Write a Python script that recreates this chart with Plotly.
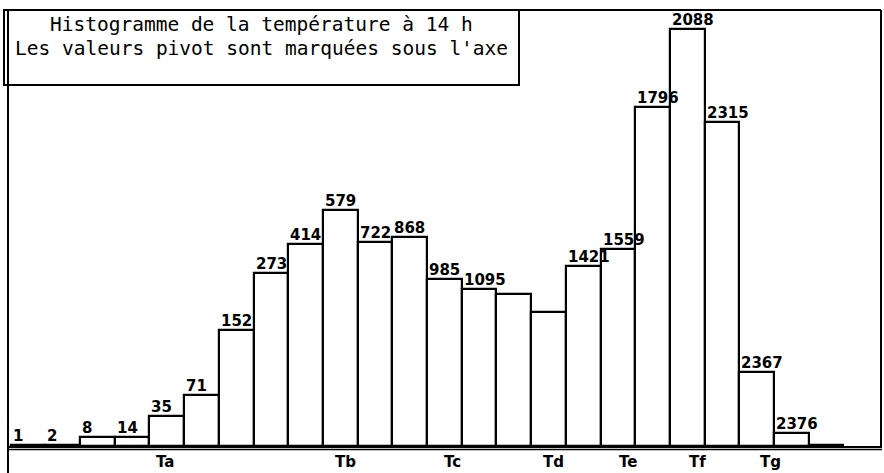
import plotly.graph_objects as go

# Data
bar_index = list(range(24))
counts = [1, 1, 6, 6, 21, 36, 81, 121, 141, 165, 143, 146, 117, 110,
          106, 94, 126, 138, 237, 292, 227, 52, 9, 1]
cum_labels = ["1", "2", "8", "14", "35", "71", "152", "273", "414", "579",
              "722", "868", "985", "1095", "", "", "1421", "1559", "1796",
              "2088", "2315", "2367", "2376", ""]
pivot_pos = [3.95, 9.14, 12.22, 15.13, 17.3, 19.3, 21.4]
pivot_labels = ["Ta", "Tb", "Tc", "Td", "Te", "Tf", "Tg"]
title_lines = ["Histogramme de la température à 14 h",
               "Les valeurs pivot sont marquées sous l'axe"]

W, H = 884, 473
ml, mr, mt, mb = 8, 2, 10, 27
pw, ph = W - ml - mr, H - mt - mb

fig = go.Figure()
fig.add_trace(go.Bar(
    x=bar_index, y=counts, width=1.0,
    marker=dict(color="white", line=dict(color="black", width=2.2)),
    hoverinfo="x+y", showlegend=False,
))


def px_x(p):
    return (p - ml) / pw


def px_y(p):
    return (H - mb - p) / ph


annotations = []
for xi, yi, lab in zip(bar_index, counts, cum_labels):
    if not lab:
        continue
    annotations.append(dict(
        x=xi - 0.5, y=yi, xref="x", yref="y", text=lab, showarrow=False,
        xanchor="left", yanchor="bottom", xshift=0, yshift=-2,
        font=dict(family="DejaVu Sans", size=15, color="black", weight="bold"),
    ))

# pivot values marked under the axis
for xp, lab in zip(pivot_pos, pivot_labels):
    annotations.append(dict(
        x=xp, y=px_y(462), xref="x", yref="paper", text=lab, showarrow=False,
        xanchor="center", yanchor="middle",
        font=dict(family="DejaVu Sans", size=15, color="black", weight="bold"),
    ))

# title box text
box_x0, box_x1, box_y0, box_y1 = 4, 519, 10, 85
cx = (box_x0 + box_x1) / 2
for i, line in enumerate(title_lines):
    annotations.append(dict(
        x=px_x(cx), y=px_y(25 + i * 23), xref="paper", yref="paper",
        text=line, showarrow=False, xanchor="center", yanchor="middle",
        font=dict(family="DejaVu Sans Mono", size=19.5, color="black"),
    ))

shapes = [
    # title box
    dict(type="rect", xref="paper", yref="paper",
         x0=px_x(box_x0), x1=px_x(box_x1), y0=px_y(box_y1), y1=px_y(box_y0),
         line=dict(color="black", width=2), fillcolor="white", layer="above"),
    # left frame extends to bottom
    dict(type="line", xref="paper", yref="paper", x0=0, x1=0,
         y0=px_y(H), y1=1, line=dict(color="black", width=2)),
    # right frame
    dict(type="line", xref="paper", yref="paper", x0=px_x(881), x1=px_x(881),
         y0=0, y1=1, line=dict(color="black", width=2)),
    # top frame
    dict(type="line", xref="paper", yref="paper", x0=0, x1=px_x(881),
         y0=1, y1=1, line=dict(color="black", width=2)),
    # double bottom line
    dict(type="line", xref="paper", yref="paper", x0=0, x1=1,
         y0=px_y(449.5), y1=px_y(449.5), line=dict(color="black", width=1.5)),
]

fig.update_layout(
    width=W, height=H,
    margin=dict(l=ml, r=mr, t=mt, b=mb),
    paper_bgcolor="white", plot_bgcolor="white",
    bargap=0,
    annotations=annotations, shapes=shapes,
    xaxis=dict(range=[-0.575, 24.61], showgrid=False, zeroline=False,
               showline=True, linecolor="black", linewidth=2,
               showticklabels=False, ticks=""),
    yaxis=dict(range=[0, 305], showgrid=False, zeroline=False,
               showline=False, showticklabels=False, ticks=""),
)

fig.write_html("out.html",
               config={"displayModeBar": False},
               post_script="document.body.style.margin='0';"
                           "document.body.style.padding='0';")
